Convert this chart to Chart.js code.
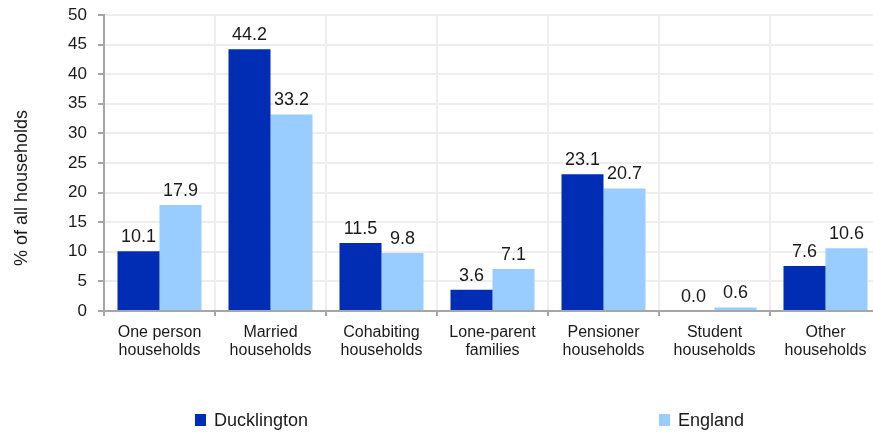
<!DOCTYPE html>
<html>
<head>
<meta charset="utf-8">
<script src="https://cdn.jsdelivr.net/npm/chart.js@4"></script>
<style>
  html, body { margin: 0; padding: 0; background: #ffffff; overflow: hidden; }
  #wrap { width: 881px; height: 432px; position: relative; }
</style>
</head>
<body>
<div id="wrap"><canvas id="c" width="881" height="432"></canvas></div>
<script>
const categories = [
  ['One person', 'households'],
  ['Married', 'households'],
  ['Cohabiting', 'households'],
  ['Lone-parent', 'families'],
  ['Pensioner', 'households'],
  ['Student', 'households'],
  ['Other', 'households']
];
const seriesNames = ['Ducklington', 'England'];
const ducklington = [10.1, 44.2, 11.5, 3.6, 23.1, 0.0, 7.6];
const england = [17.9, 33.2, 9.8, 7.1, 20.7, 0.6, 10.6];
const yTicks = [0, 5, 10, 15, 20, 25, 30, 35, 40, 45, 50];
const yTitle = '% of all households';

const FONT = "'Liberation Sans', Arial, sans-serif";
const TEXT = '#1a1a1a';
const AXIS = '#a6a6a6';
const GRID = '#eeeeee';

const valueLabels = {
  id: 'valueLabels',
  afterDatasetsDraw(chart) {
    const ctx = chart.ctx;
    ctx.save();
    ctx.font = '18px ' + FONT;
    ctx.fillStyle = TEXT;
    ctx.textAlign = 'center';
    ctx.textBaseline = 'alphabetic';
    chart.data.datasets.forEach((ds, i) => {
      const meta = chart.getDatasetMeta(i);
      meta.data.forEach((bar, j) => {
        ctx.fillText(Number(ds.data[j]).toFixed(1), bar.x, bar.y - 9);
      });
    });
    ctx.restore();
  }
};

const axisTitle = {
  id: 'axisTitle',
  afterDraw(chart) {
    const ctx = chart.ctx;
    ctx.save();
    ctx.font = '18px ' + FONT;
    ctx.fillStyle = TEXT;
    ctx.textAlign = 'center';
    ctx.textBaseline = 'middle';
    ctx.translate(22, 188);
    ctx.rotate(-Math.PI / 2);
    ctx.fillText(yTitle, 0, 0);
    ctx.restore();
  }
};

const customLegend = {
  id: 'customLegend',
  afterDraw(chart) {
    const ctx = chart.ctx;
    const xs = [195, 659];
    ctx.save();
    ctx.font = '18px ' + FONT;
    ctx.textBaseline = 'alphabetic';
    ctx.textAlign = 'left';
    chart.data.datasets.forEach((ds, i) => {
      const x = xs[i];
      ctx.fillStyle = ds.backgroundColor;
      ctx.fillRect(x, 414, 11, 12);
      ctx.fillStyle = TEXT;
      ctx.fillText(ds.label, x + 19, 426);
    });
    ctx.restore();
  }
};

new Chart(document.getElementById('c'), {
  type: 'bar',
  data: {
    labels: categories,
    datasets: [
      { label: seriesNames[0], data: ducklington, backgroundColor: '#002db3', barPercentage: 1.0, categoryPercentage: 0.757 },
      { label: seriesNames[1], data: england, backgroundColor: '#99ccff', barPercentage: 1.0, categoryPercentage: 0.757 }
    ]
  },
  options: {
    responsive: false,
    animation: false,
    devicePixelRatio: 1,
    layout: { padding: { top: 15, left: 0, right: 0, bottom: 0 } },
    plugins: {
      legend: { display: false },
      tooltip: { enabled: false }
    },
    scales: {
      x: {
        offset: true,
        grid: { color: GRID, lineWidth: 2, offset: true, drawTicks: true, tickLength: 5, tickColor: AXIS, tickWidth: 2 },
        border: { color: AXIS, width: 2 },
        ticks: { color: TEXT, font: { family: FONT, size: 16, lineHeight: 1.1 }, padding: 8, maxRotation: 0, autoSkip: false },
        afterFit(scale) { scale.height = 121; scale.paddingLeft = 0; scale.paddingRight = 0; }
      },
      y: {
        min: 0,
        max: 50,
        afterBuildTicks(scale) { scale.ticks = yTicks.map(v => ({ value: v })); },
        grid: { color: GRID, lineWidth: 2, drawTicks: true, tickLength: 6, tickColor: AXIS, tickWidth: 2 },
        border: { color: AXIS, width: 2 },
        ticks: { color: TEXT, font: { family: FONT, size: 17 }, padding: 11 },
        title: { display: false, text: yTitle },
        afterFit(scale) { scale.width = 104; scale.paddingTop = 0; scale.paddingBottom = 0; }
      }
    }
  },
  plugins: [valueLabels, axisTitle, customLegend]
});
</script>
</body>
</html>
